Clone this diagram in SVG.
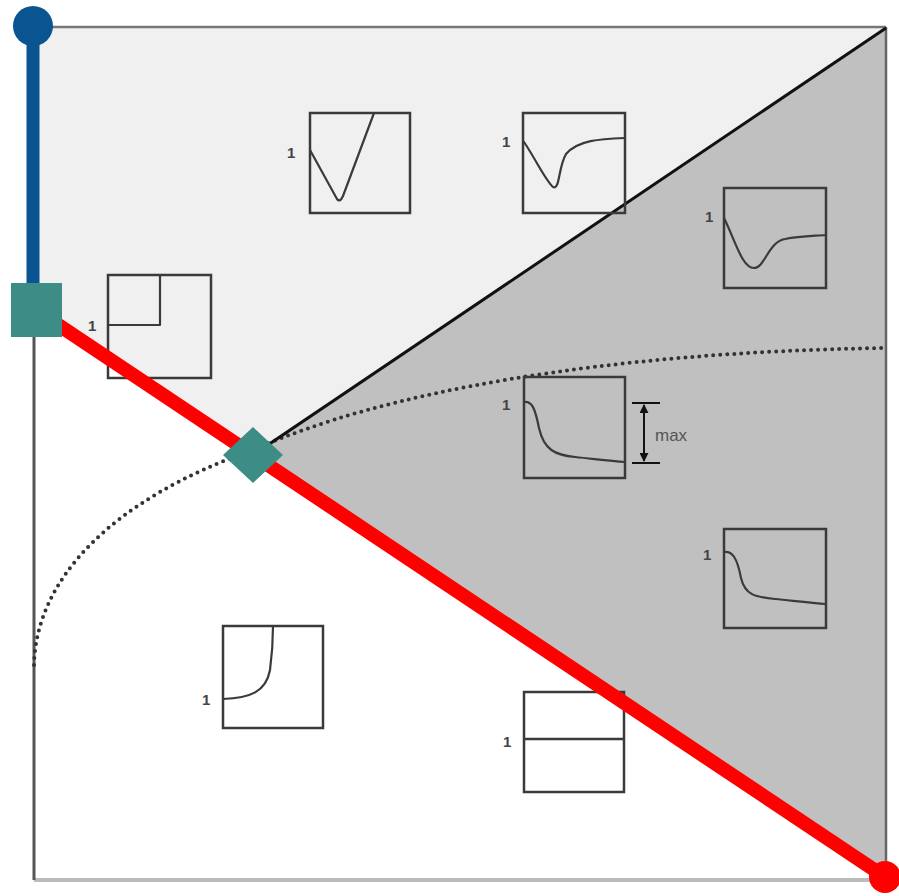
<svg xmlns="http://www.w3.org/2000/svg" width="899" height="896" viewBox="0 0 899 896">
<defs>
<style>
.bx{fill:none;stroke:#3a3a3a;stroke-width:2.5}
.cv{fill:none;stroke:#3a3a3a;stroke-width:2.2;stroke-linejoin:round;stroke-linecap:round}
.lb{font-family:"Liberation Sans",Arial,sans-serif;font-size:15px;font-weight:bold;fill:#444}
</style>
<marker id="ah" viewBox="0 0 10 10" refX="9" refY="5" markerWidth="9" markerHeight="9" orient="auto-start-reverse" markerUnits="userSpaceOnUse">
<path d="M0,0 L10,5 L0,10 z" fill="#111"/>
</marker>
</defs>
<rect width="899" height="896" fill="#ffffff"/>
<g id="regions">
<polygon points="34,27 886,27 253,455 34,309" fill="#f0f0f0"/>
<polygon points="886,27 886,878 253,455" fill="#c0c0c0"/>
</g>
<g id="frame">
<line x1="34" y1="27" x2="886" y2="27" stroke="#777" stroke-width="2.5"/>
<line x1="886" y1="27" x2="886" y2="880" stroke="#666" stroke-width="2.5"/>
<line x1="34" y1="880" x2="886" y2="880" stroke="#bbb" stroke-width="4"/>
<line x1="34" y1="27" x2="34" y2="880" stroke="#555" stroke-width="3"/>
</g>
<g id="connectors">
<path d="M34,665 C36,580 110,500 253,450 C380,393 600,352 886,348" fill="none" stroke="#333" stroke-width="4" stroke-linecap="round" stroke-dasharray="0 7"/>
<line x1="253" y1="455" x2="886" y2="28" stroke="#111" stroke-width="3"/>
</g>
<g id="box-v">
<text class="lb" x="287" y="158">1</text>
<rect class="bx" x="310" y="113" width="100" height="100"/>
<path class="cv" d="M310,150 L337,199 Q340,203 343,196 L374,113"/>
</g>
<g id="box-dip1">
<text class="lb" x="502" y="147">1</text>
<rect class="bx" x="523" y="113" width="102" height="100"/>
<path class="cv" d="M524,142 C535,158 545,180 553,187 C560,190 558,168 566,154 C578,140 600,139 625,138"/>
</g>
<g id="box-dip2">
<text class="lb" x="705" y="222">1</text>
<rect class="bx" x="724" y="188" width="102" height="100"/>
<path class="cv" d="M724,218 C735,240 742,268 754,268 C765,268 768,242 785,239 C800,236 815,236 826,235"/>
</g>
<g id="box-step">
<text class="lb" x="88" y="331">1</text>
<rect class="bx" x="108" y="275" width="103" height="103"/>
<path class="cv" d="M108,325 L160,325 L160,275"/>
</g>
<g id="box-max">
<text class="lb" x="502" y="410">1</text>
<rect class="bx" x="524" y="377" width="101" height="101"/>
<path class="cv" d="M524,402 C532,401 535,408 539,428 C544,450 555,455 575,457 C595,459 610,461 625,462"/>
<line x1="632" y1="403" x2="660" y2="403" stroke="#111" stroke-width="2"/>
<line x1="632" y1="463" x2="660" y2="463" stroke="#111" stroke-width="2"/>
<line x1="644" y1="405" x2="644" y2="461" stroke="#111" stroke-width="2" marker-start="url(#ah)" marker-end="url(#ah)"/>
<text x="655" y="441" font-family="Liberation Sans,Arial,sans-serif" font-size="17" fill="#555">max</text>
</g>
<g id="box-decay">
<text class="lb" x="703" y="560">1</text>
<rect class="bx" x="724" y="529" width="102" height="99"/>
<path class="cv" d="M724,552 C732,551 737,557 741,578 C745,595 755,597 775,599 C795,601 812,603 826,604"/>
</g>
<g id="box-rise">
<text class="lb" x="202" y="705">1</text>
<rect class="bx" x="223" y="626" width="100" height="102"/>
<path class="cv" d="M223,699 C250,698 266,692 270,670 C272,655 273,640 273,626"/>
</g>
<g id="box-flat">
<text class="lb" x="503" y="747">1</text>
<rect class="bx" x="524" y="692" width="100" height="100"/>
<line x1="524" y1="739" x2="624" y2="739" stroke="#3a3a3a" stroke-width="2.5"/>
</g>
<g id="red-line">
<line x1="36" y1="310" x2="885" y2="877" stroke="#ff0000" stroke-width="14"/>
<circle cx="885" cy="877" r="16" fill="#ff0000"/>
</g>
<g id="blue-line">
<line x1="33" y1="28" x2="33" y2="290" stroke="#0a5591" stroke-width="13"/>
<circle cx="33" cy="26" r="20" fill="#0a5591"/>
</g>
<g id="square-node">
<rect x="11" y="283" width="51" height="54" fill="#3e8c86"/>
</g>
<g id="diamond-node">
<polygon points="253,427 283,455 253,483 223,455" fill="#3e8c86"/>
</g>
</svg>
